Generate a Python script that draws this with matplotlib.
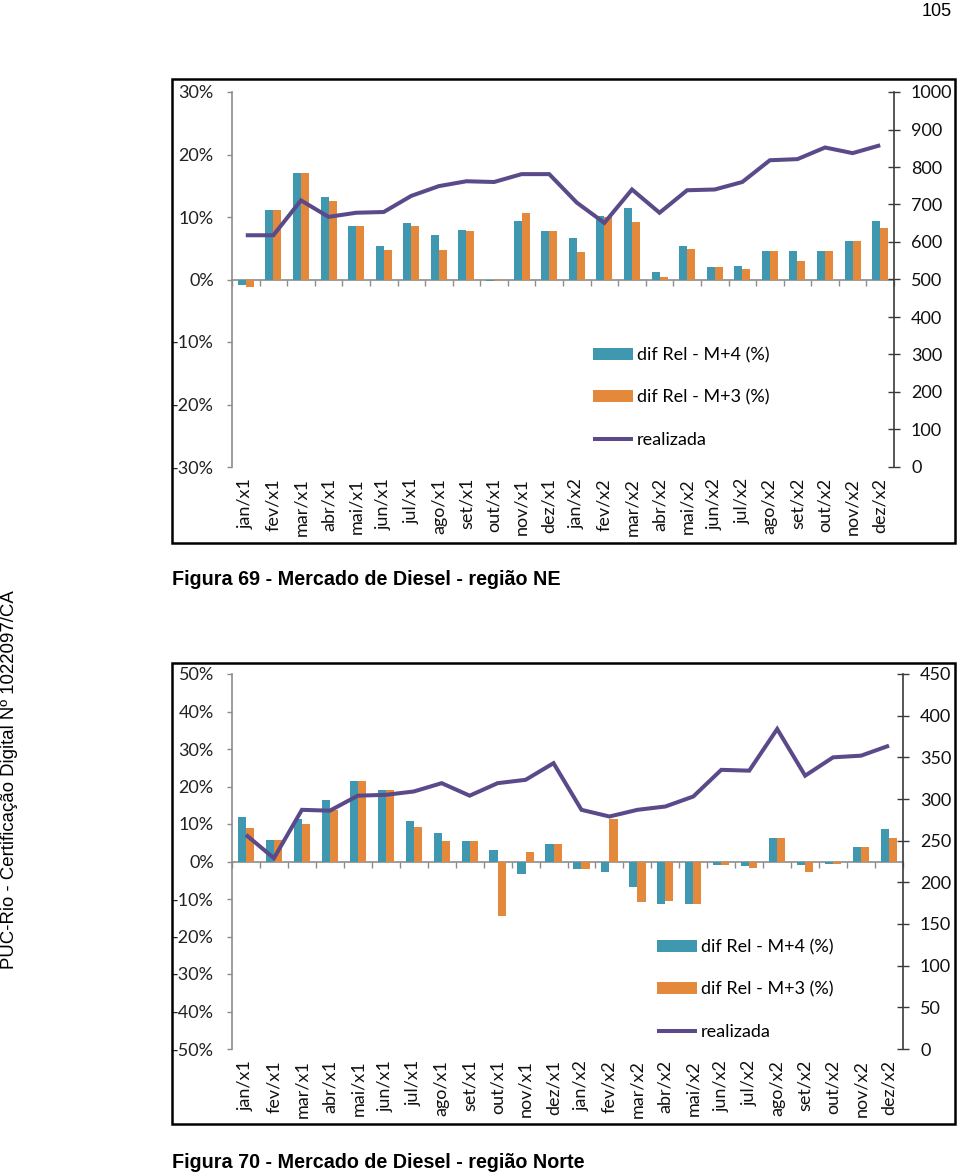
import numpy as np
import matplotlib
matplotlib.use('Agg')
import matplotlib.pyplot as plt
from matplotlib.patches import Rectangle
from matplotlib.ticker import FuncFormatter

# ---------------- data ----------------
months = ['jan/x1', 'fev/x1', 'mar/x1', 'abr/x1', 'mai/x1', 'jun/x1', 'jul/x1',
          'ago/x1', 'set/x1', 'out/x1', 'nov/x1', 'dez/x1', 'jan/x2', 'fev/x2',
          'mar/x2', 'abr/x2', 'mai/x2', 'jun/x2', 'jul/x2', 'ago/x2', 'set/x2',
          'out/x2', 'nov/x2', 'dez/x2']

# Figura 69 - NE
ne_m4 = [-0.8, 11.2, 17.1, 13.2, 8.6, 5.4, 9.1, 7.1, 8.0, -0.3, 9.4, 7.8,
         6.6, 10.2, 11.4, 1.2, 5.3, 2.0, 2.2, 4.5, 4.6, 4.6, 6.1, 9.3]
ne_m3 = [-1.2, 11.2, 17.1, 12.5, 8.6, 4.7, 8.5, 4.7, 7.8, -0.3, 10.6, 7.8,
         4.4, 10.0, 9.2, 0.4, 4.9, 2.0, 1.7, 4.5, 3.0, 4.6, 6.1, 8.2]
ne_real = [618, 618, 711, 667, 678, 680, 723, 749, 762, 760, 781, 781,
           705, 651, 740, 678, 738, 740, 760, 818, 821, 852, 837, 858]

# Figura 70 - Norte
no_m4 = [12.0, 5.8, 11.3, 16.4, 21.6, 19.0, 10.9, 7.6, 5.6, 3.1, -3.3, 4.7,
         -2.0, -2.7, -6.7, -11.4, -11.4, -0.9, -1.3, 6.4, -0.8, -0.7, 3.8, 8.7]
no_m3 = [8.9, 5.8, 10.0, 13.8, 21.6, 19.0, 9.2, 5.4, 5.6, -14.4, 2.6, 4.7,
         -2.0, 11.3, -10.7, -10.4, -11.4, -0.9, -1.6, 6.4, -2.7, -0.7, 3.8, 6.4]
no_real = [257, 229, 287, 286, 304, 305, 309, 319, 304, 319, 323, 343,
           287, 279, 287, 291, 303, 335, 334, 384, 328, 350, 352, 364]

series_labels = ['dif Rel - M+4 (%)', 'dif Rel - M+3 (%)', 'realizada']
captions = ['Figura 69 - Mercado de Diesel - região NE',
            'Figura 70 - Mercado de Diesel - região Norte']

# ---------------- style ----------------
TEAL = '#3F97B0'
ORANGE = '#E4883C'
PURPLE = '#5B4A8A'
GRAY = '#8C8C8C'
DARK = '#3A3A3A'
FS = 13

plt.rcParams['font.family'] = ['Lato', 'DejaVu Sans']

W, H = 960, 1174
fig = plt.figure(figsize=(W / 100, H / 100), dpi=100)


def fx(px):
    return px / W


def fy(py):
    return 1 - py / H


def draw_chart(box, axbox, m4, m3, real, ylim, ystep, rlim, rstep, leg_xy, caption_xy, caption):
    x0, y0, x1, y1 = box
    fig.patches.append(Rectangle((fx(x0), fy(y1)), fx(x1) - fx(x0), fy(y0) - fy(y1),
                                 transform=fig.transFigure, fill=False, lw=1.8,
                                 ec='black', zorder=10))
    l, t, r, b = axbox
    ax = fig.add_axes([fx(l), fy(b), fx(r) - fx(l), fy(t) - fy(b)])
    ax.patch.set_visible(False)
    x = np.arange(len(months))
    w = 0.29
    hb1 = ax.bar(x - w / 2, m4, width=w, color=TEAL, zorder=3)
    hb2 = ax.bar(x + w / 2, m3, width=w, color=ORANGE, zorder=3)
    ax.set_xlim(-0.5, len(months) - 0.5)
    ax.set_ylim(*ylim)
    ax.set_yticks(np.arange(ylim[0], ylim[1] + 0.1, ystep))
    ax.yaxis.set_major_formatter(FuncFormatter(lambda v, p: f'{v:.0f}%'))
    ax.tick_params(axis='y', direction='out', length=3.6, width=1, color=GRAY,
                   labelsize=FS, labelcolor='#222222', pad=9.5)
    ax.set_xticks(x)
    ax.set_xticklabels(months, rotation=90, fontsize=FS, color='#111111')
    ax.tick_params(axis='x', length=0, pad=8)
    for s in ['top', 'right', 'bottom']:
        ax.spines[s].set_visible(False)
    ax.spines['left'].set_color(GRAY)
    ax.spines['left'].set_linewidth(1.2)

    # zero line with category separators
    sec = ax.secondary_xaxis(0.5)
    sec.set_alignment('bottom')
    sec.set_xticks(np.arange(-0.5, len(months), 1.0))
    sec.tick_params(axis='x', direction='out', length=4, width=1, color=GRAY,
                    labelbottom=False, labeltop=False)
    sec.spines['bottom'].set_color(GRAY)
    sec.spines['bottom'].set_linewidth(1.2)

    ax2 = ax.twinx()
    hl, = ax2.plot(x, real, color=PURPLE, lw=2.9, solid_capstyle='butt',
                   solid_joinstyle='miter', zorder=4)
    ax2.set_ylim(*rlim)
    ax2.set_yticks(np.arange(rlim[0], rlim[1] + 1, rstep))
    ax2.tick_params(axis='y', direction='inout', length=8.5, width=1, color=DARK,
                    labelsize=FS, labelcolor='#111111', pad=8)
    for s in ['top', 'left', 'bottom']:
        ax2.spines[s].set_visible(False)
    ax2.spines['right'].set_color(DARK)
    ax2.spines['right'].set_linewidth(1.2)

    fig.legend([hb1, hb2, hl], series_labels, loc='upper left',
               bbox_to_anchor=(fx(leg_xy[0]), fy(leg_xy[1])),
               frameon=False, borderpad=0, borderaxespad=0, fontsize=FS,
               handlelength=2.2, handleheight=0.62, handletextpad=0.25,
               labelspacing=1.45)

    fig.text(fx(caption_xy[0]), fy(caption_xy[1]), caption, fontsize=14.2,
             fontweight='bold', ha='left', va='center',
             family=['Liberation Sans Narrow', 'Liberation Sans', 'DejaVu Sans'])


draw_chart((172, 79, 955, 543), (232, 92, 894, 467), ne_m4, ne_m3, ne_real,
           (-30, 30), 10, (0, 1000), 100, (593, 347), (172, 580), captions[0])
draw_chart((172, 663, 955, 1124), (232, 674, 903, 1049), no_m4, no_m3, no_real,
           (-50, 50), 10, (0, 450), 50, (657, 939), (172, 1162), captions[1])

# page number and side stamp
fig.text(fx(952), fy(12), '105', fontsize=13, ha='right', va='center',
         family=['Liberation Sans Narrow', 'Liberation Sans', 'DejaVu Sans'])
fig.text(fx(10), fy(780), 'PUC-Rio - Certificação Digital Nº 1022097/CA',
         rotation=90, fontsize=13.4, ha='center', va='center',
         family=['Liberation Sans', 'DejaVu Sans'])

fig.savefig('out.png', dpi=100)
